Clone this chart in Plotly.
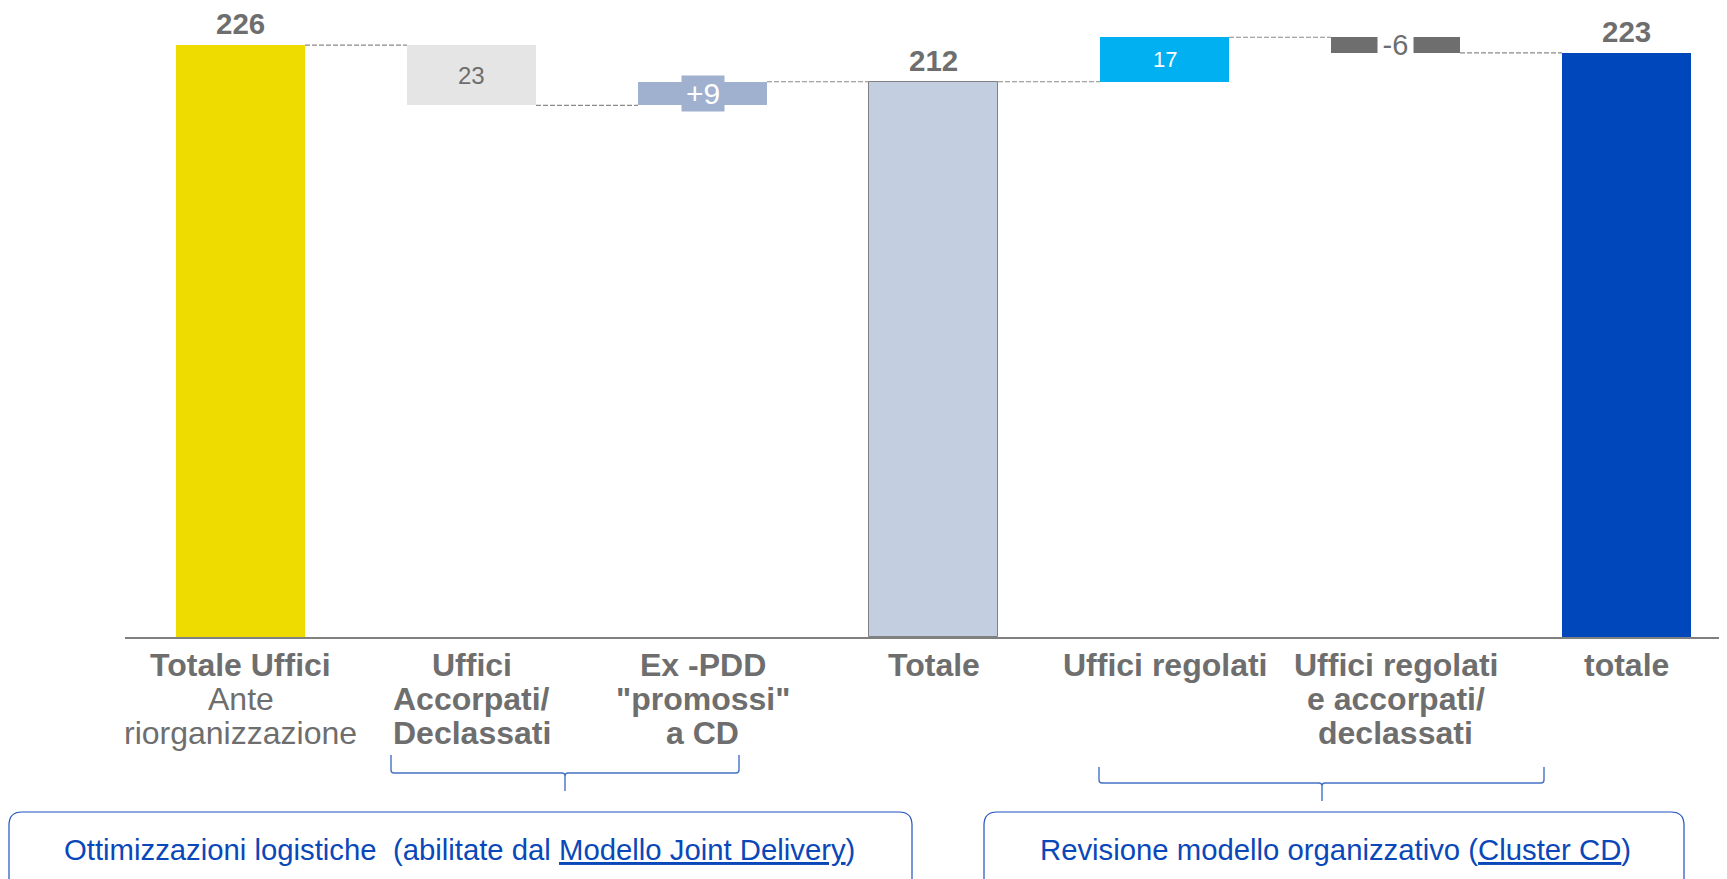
import plotly.graph_objects as go

# ---------------- data ----------------
categories = [
    ["<b>Totale Uffici</b>", "Ante", "riorganizzazione"],
    ["<b>Uffici</b>", "<b>Accorpati/</b>", "<b>Declassati</b>"],
    ["<b>Ex -PDD</b>", "<b>\"promossi\"</b>", "<b>a CD</b>"],
    ["<b>Totale</b>"],
    ["<b>Uffici regolati</b>"],
    ["<b>Uffici regolati</b>", "<b>e accorpati/</b>", "<b>declassati</b>"],
    ["<b>totale</b>"],
]
measures = ["absolute", "relative", "relative", "total", "relative", "relative", "total"]
deltas = [226, -23, 9, 0, 17, -6, 0]
value_labels = ["226", "23", "+9", "212", "17", "-6", "223"]
bar_colors = ["#EEDC00", "#E5E5E5", "#9FB1CF", "#C3CFE0", "#00B0F0", "#6E6E6E", "#0047BB"]
group_labels = [
    "Ottimizzazioni logistiche\u00a0 (abilitate dal <u>Modello Joint Delivery</u>)",
    "Revisione modello organizzativo (<u>Cluster CD</u>)",
]

# ---------------- styles ----------------
FONT = "Liberation Sans, Arial, sans-serif"
GREY_TXT = "#6E6E6E"
BLUE_TXT = "#0A47B8"
OFF = 8                      # page body margin
W, H = 1727 - OFF, 879 - OFF
ML, MR, MT = 125 - OFF, 0, 0
PH = 637 - OFF
MB = H - MT - PH
PW = W - ML - MR
CAT_PX = 231.0
BAR_W = 0.5585
YMAX = PH / 2.619


def px(x):
    return (x - OFF - ML) / PW


def py(y):
    return (MT + PH - (y - OFF)) / PH


# ---------------- waterfall geometry from data ----------------
bases, heights, levels = [], [], []
level = 0
for m, d in zip(measures, deltas):
    if m == "absolute":
        bases.append(0); heights.append(d); level = d
    elif m == "total":
        bases.append(0); heights.append(level)
    else:
        lo, hi = (level, level + d) if d >= 0 else (level + d, level)
        bases.append(lo); heights.append(hi - lo); level = level + d
    levels.append(level)

xs = list(range(len(categories)))
line_colors = ["#808080" if m == "total" and i < len(xs) - 1 else c
               for i, (m, c) in enumerate(zip(measures, bar_colors))]
line_widths = [1 if m == "total" and i < len(xs) - 1 else 0
               for i, m in enumerate(measures)]

fig = go.Figure()
fig.add_trace(go.Bar(
    x=xs, y=heights, base=bases, width=BAR_W,
    marker=dict(color=bar_colors, line=dict(color=line_colors, width=line_widths)),
    hoverinfo="skip", showlegend=False,
))

shapes = []
# connectors
for i in range(len(xs) - 1):
    shapes.append(dict(type="line", xref="x", yref="y",
                       x0=xs[i] + BAR_W / 2, x1=xs[i + 1] - BAR_W / 2,
                       y0=levels[i], y1=levels[i],
                       line=dict(color="#8A8A8A", width=1.2, dash="5px,2px"), layer="below"))

annotations = []
# value labels
for i, (m, lab) in enumerate(zip(measures, value_labels)):
    top = bases[i] + heights[i]
    if m in ("absolute", "total"):
        annotations.append(dict(x=xs[i], y=top, xref="x", yref="y", text="<b>%s</b>" % lab,
                                showarrow=False, xanchor="center", yanchor="bottom", yshift=3,
                                font=dict(family=FONT, size=29.5, color=GREY_TXT)))
    else:
        mid = bases[i] + heights[i] / 2
        if lab.startswith("+"):
            f = dict(family=FONT, size=30, color="white"); bg = bar_colors[i]; wd = 40
        elif lab.startswith("-"):
            f = dict(family=FONT, size=29, color=GREY_TXT); bg = "white"; wd = 33
        elif bar_colors[i] in ("#00B0F0",):
            f = dict(family=FONT, size=22, color="white"); bg = None; wd = None
        else:
            f = dict(family=FONT, size=24, color=GREY_TXT); bg = None; wd = None
        a = dict(x=xs[i], y=mid, xref="x", yref="y", text=lab, showarrow=False,
                 xanchor="center", yanchor="middle", font=f, borderpad=1)
        if bg:
            a["bgcolor"] = bg
            a["width"] = wd
        annotations.append(a)

# category labels (one annotation per line for tight line spacing)
LINE0, LINE_GAP = 665, 34
for i, lines in enumerate(categories):
    for j, t in enumerate(lines):
        annotations.append(dict(x=xs[i], y=py(LINE0 + j * LINE_GAP), xref="x", yref="paper",
                                text=t, showarrow=False, xanchor="center", yanchor="middle",
                                font=dict(family=FONT, size=32, color=GREY_TXT)))

# braces
BRACE_COL = "#4472C4"


def brace(l, r, top, hy, cx, bot):
    rr = 3
    return (f"M {px(l)},{py(top)} L {px(l)},{py(hy - rr)} Q {px(l)},{py(hy)} {px(l + rr)},{py(hy)} "
            f"L {px(cx - rr)},{py(hy)} Q {px(cx)},{py(hy)} {px(cx)},{py(hy + rr)} L {px(cx)},{py(bot)} "
            f"M {px(cx)},{py(hy + rr)} Q {px(cx)},{py(hy)} {px(cx + rr)},{py(hy)} "
            f"L {px(r - rr)},{py(hy)} Q {px(r)},{py(hy)} {px(r)},{py(hy - rr)} L {px(r)},{py(top)}")


for (l, r, top, hy, cx, bot) in [(391, 739, 755, 773, 565, 791), (1099, 1544, 767, 783, 1322, 801)]:
    shapes.append(dict(type="path", xref="paper", yref="paper", path=brace(l, r, top, hy, cx, bot),
                       line=dict(color=BRACE_COL, width=1.4)))


# rounded boxes
def rbox(l, r, top, bot, rad=13):
    return (f"M {px(l)},{py(bot)} L {px(l)},{py(top + rad)} Q {px(l)},{py(top)} {px(l + rad)},{py(top)} "
            f"L {px(r - rad)},{py(top)} Q {px(r)},{py(top)} {px(r)},{py(top + rad)} L {px(r)},{py(bot)}")


boxes = [(9, 912, 812, 900, 459), (984, 1684, 812, 900, 1335)]
for (l, r, top, bot, cx), lab in zip(boxes, group_labels):
    shapes.append(dict(type="path", xref="paper", yref="paper", path=rbox(l, r, top, bot),
                       line=dict(color="#1F50BE", width=1.2)))
    annotations.append(dict(x=px(cx), y=py(849), xref="paper", yref="paper", text=lab,
                            showarrow=False, xanchor="center", yanchor="middle",
                            font=dict(family=FONT, size=29.3, color=BLUE_TXT)))

fig.update_layout(
    width=W, height=H,
    margin=dict(l=ML, r=MR, t=MT, b=MB, autoexpand=False),
    paper_bgcolor="white", plot_bgcolor="white",
    xaxis=dict(range=[-0.5, -0.5 + PW / CAT_PX], showticklabels=False, showgrid=False,
               zeroline=False, showline=True, linecolor="#808080", linewidth=2, fixedrange=True),
    yaxis=dict(range=[0, YMAX], visible=False, fixedrange=True),
    shapes=shapes, annotations=annotations, bargap=0,
)

fig.write_html("out.html")
